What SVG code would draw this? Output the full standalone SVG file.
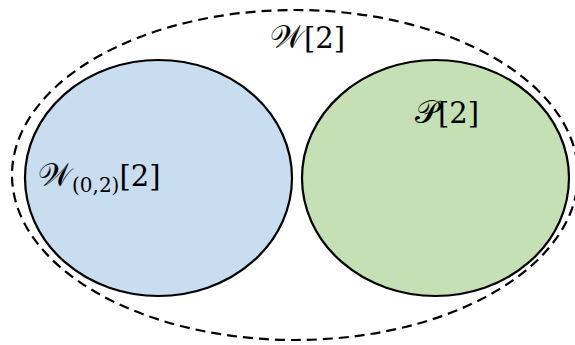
<svg xmlns="http://www.w3.org/2000/svg" width="575" height="345" viewBox="0 0 575 345">
<style>
.set{stroke:#000;stroke-width:2.2}
.lbl{font-family:"DejaVu Serif","Liberation Serif",serif;font-size:29px;fill:#000}
.scr{font-size:32px}
.sub{font-size:20px}
</style>
<g id="outer">
<ellipse cx="295" cy="175" rx="283" ry="165" fill="none" stroke="#000" stroke-width="2.2" stroke-dasharray="10,6"/>
<text class="lbl" x="270" y="48"><tspan class="scr">𝒲</tspan>[2]</text>
</g>
<g id="W02">
<ellipse class="set" cx="158.5" cy="178" rx="133.5" ry="118" fill="#c9ddf1"/>
<text class="lbl" x="38" y="186"><tspan class="scr">𝒲</tspan><tspan class="sub" dy="6">(0,2)</tspan><tspan dy="-6">[2]</tspan></text>
</g>
<g id="P2">
<ellipse class="set" cx="435.5" cy="178" rx="133.5" ry="118" fill="#c5e0b4"/>
<text class="lbl" x="415" y="123"><tspan class="scr">𝒫</tspan>[2]</text>
</g>
<g id="connectors"></g>
</svg>
